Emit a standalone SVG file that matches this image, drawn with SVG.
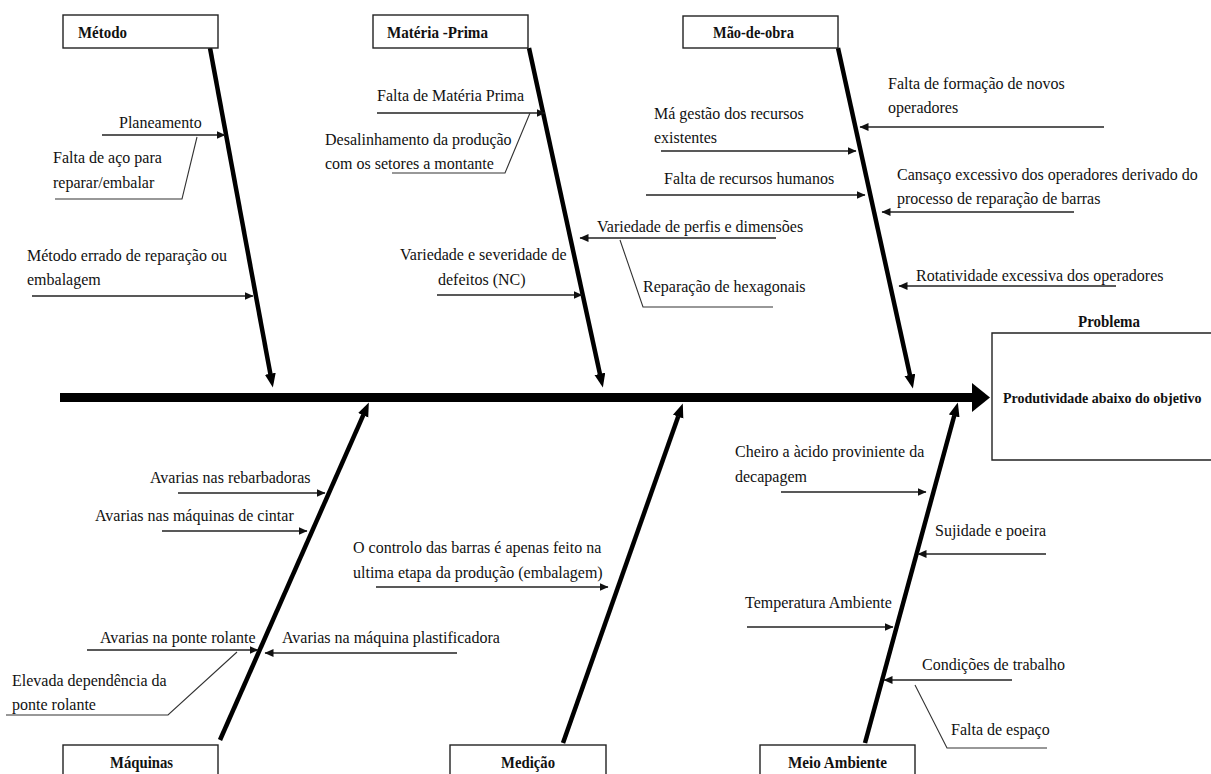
<svg xmlns="http://www.w3.org/2000/svg" width="1211" height="774" viewBox="0 0 1211 774">
<style>
text{font-family:"Liberation Serif","Times New Roman",serif;fill:#111}
.t{font-size:16px}
.b{font-size:16.5px;font-weight:bold}
.box{fill:#fff;stroke:#222;stroke-width:1.4}
.bone{stroke:#000;stroke-width:4.5;fill:none;marker-end:url(#big)}
.arr{stroke:#222;stroke-width:1.3;fill:none;marker-end:url(#small)}
.ln{stroke:#333;stroke-width:1.1;fill:none}
</style>
<defs>
<marker id="big" markerUnits="userSpaceOnUse" markerWidth="16" markerHeight="12" refX="0.5" refY="5.5" orient="auto"><path d="M0,0 L14,5.5 L0,11 z" fill="#000"/></marker>
<marker id="small" markerUnits="userSpaceOnUse" markerWidth="10" markerHeight="9" refX="8.5" refY="4" orient="auto"><path d="M0,0 L9,4 L0,8 z" fill="#111"/></marker>
</defs>
<rect width="1211" height="774" fill="#fff"/>

<g id="connectors">
<line x1="60" y1="397.5" x2="973" y2="397.5" stroke="#000" stroke-width="9"/>
<polygon points="972,383 990,397.5 972,412" fill="#000"/>
<line class="bone" x1="210" y1="48" x2="270.4" y2="374.2"/>
<line class="bone" x1="529" y1="48" x2="600" y2="374.3"/>
<line class="bone" x1="838" y1="48" x2="910" y2="375.3"/>
<line class="bone" x1="220" y1="740" x2="363.4" y2="414.8"/>
<line class="bone" x1="563" y1="743" x2="678.3" y2="416.2"/>
<line class="bone" x1="865" y1="743" x2="954.3" y2="415.5"/>

<line class="arr" x1="102" y1="135" x2="225" y2="135"/>
<line class="arr" x1="32" y1="296" x2="253" y2="296"/>
<line class="arr" x1="377" y1="113" x2="545" y2="113"/>
<line class="arr" x1="437" y1="295" x2="582" y2="295"/>
<line class="arr" x1="776" y1="238" x2="580" y2="238"/>
<line class="arr" x1="1104" y1="127" x2="860" y2="127"/>
<line class="arr" x1="661" y1="151" x2="856" y2="151"/>
<line class="arr" x1="646" y1="195" x2="865" y2="195"/>
<line class="arr" x1="1074" y1="212" x2="882" y2="212"/>
<line class="arr" x1="1116" y1="286" x2="899" y2="286"/>
<line class="arr" x1="178" y1="493" x2="325" y2="493"/>
<line class="arr" x1="162" y1="531" x2="307" y2="531"/>
<line class="arr" x1="87" y1="650" x2="258" y2="650"/>
<line class="arr" x1="457" y1="653" x2="265" y2="653"/>
<line class="arr" x1="376" y1="587" x2="608" y2="587"/>
<line class="arr" x1="781" y1="492" x2="926" y2="492"/>
<line class="arr" x1="1046" y1="554" x2="918" y2="554"/>
<line class="arr" x1="747" y1="627" x2="893" y2="627"/>
<line class="arr" x1="1012" y1="680" x2="884" y2="680"/>

<polyline class="ln" points="55,199 182,199 197,137"/>
<polyline class="ln" points="392,173 505,173 530,113"/>
<polyline class="ln" points="620,240 643,307 773,307"/>
<polyline class="ln" points="6,715 168,715 237,652"/>
<polyline class="ln" points="915,685 947,748 1047,748"/>
</g>

<g id="metodo">
<rect class="box" x="63" y="15" width="155" height="33"/>
<text class="b" x="78" y="38" textLength="49" lengthAdjust="spacingAndGlyphs">Método</text>
<text class="t" x="119" y="128">Planeamento</text>
<text class="t" x="53" y="163">Falta de aço para</text>
<text class="t" x="53" y="188">reparar/embalar</text>
<text class="t" x="27" y="261">Método errado de reparação ou</text>
<text class="t" x="27" y="285">embalagem</text>
</g>

<g id="materia-prima">
<rect class="box" x="373" y="15" width="155" height="33"/>
<text class="b" x="387" y="38" textLength="101" lengthAdjust="spacingAndGlyphs">Matéria -Prima</text>
<text class="t" x="377" y="101">Falta de Matéria Prima</text>
<text class="t" x="325" y="145">Desalinhamento da produção</text>
<text class="t" x="325" y="169">com os setores a montante</text>
<text class="t" x="400" y="260">Variedade e severidade de</text>
<text class="t" x="438" y="285">defeitos (NC)</text>
<text class="t" x="597" y="232">Variedade de perfis e dimensões</text>
<text class="t" x="643" y="292">Reparação de hexagonais</text>
</g>

<g id="mao-de-obra">
<rect class="box" x="683" y="16" width="155" height="32"/>
<text class="b" x="713" y="38" textLength="81" lengthAdjust="spacingAndGlyphs">Mão-de-obra</text>
<text class="t" x="888" y="89">Falta de formação de novos</text>
<text class="t" x="888" y="113">operadores</text>
<text class="t" x="654" y="119">Má gestão dos recursos</text>
<text class="t" x="654" y="143">existentes</text>
<text class="t" x="664" y="184">Falta de recursos humanos</text>
<text class="t" x="897" y="180">Cansaço excessivo dos operadores derivado do</text>
<text class="t" x="897" y="204">processo de reparação de barras</text>
<text class="t" x="916" y="281">Rotatividade excessiva dos operadores</text>
</g>

<g id="problema">
<text class="b" x="1078" y="327" textLength="62" lengthAdjust="spacingAndGlyphs">Problema</text>
<path class="box" d="M1211,333 H992 V460 H1211"/>
<text x="1003" y="403" font-size="14" font-weight="bold">Produtividade abaixo do objetivo</text>
</g>

<g id="maquinas">
<rect class="box" x="63" y="745" width="155" height="40"/>
<text class="b" x="110" y="768" textLength="63" lengthAdjust="spacingAndGlyphs">Máquinas</text>
<text class="t" x="150" y="483">Avarias nas rebarbadoras</text>
<text class="t" x="95" y="521">Avarias nas máquinas de cintar</text>
<text class="t" x="100" y="643">Avarias na ponte rolante</text>
<text class="t" x="282" y="643">Avarias na máquina plastificadora</text>
<text class="t" x="12" y="686">Elevada dependência da</text>
<text class="t" x="12" y="710">ponte rolante</text>
</g>

<g id="medicao">
<rect class="box" x="450" y="745" width="156" height="40"/>
<text class="b" x="501" y="768" textLength="54" lengthAdjust="spacingAndGlyphs">Medição</text>
<text class="t" x="353" y="553">O controlo das barras é apenas feito na</text>
<text class="t" x="353" y="578">ultima etapa da produção (embalagem)</text>
</g>

<g id="meio-ambiente">
<rect class="box" x="760" y="745" width="155" height="40"/>
<text class="b" x="788" y="768" textLength="99" lengthAdjust="spacingAndGlyphs">Meio Ambiente</text>
<text class="t" x="735" y="457">Cheiro a àcido proviniente da</text>
<text class="t" x="735" y="482">decapagem</text>
<text class="t" x="935" y="536">Sujidade e poeira</text>
<text class="t" x="745" y="608">Temperatura Ambiente</text>
<text class="t" x="922" y="670">Condições de trabalho</text>
<text class="t" x="951" y="735">Falta de espaço</text>
</g>
</svg>
